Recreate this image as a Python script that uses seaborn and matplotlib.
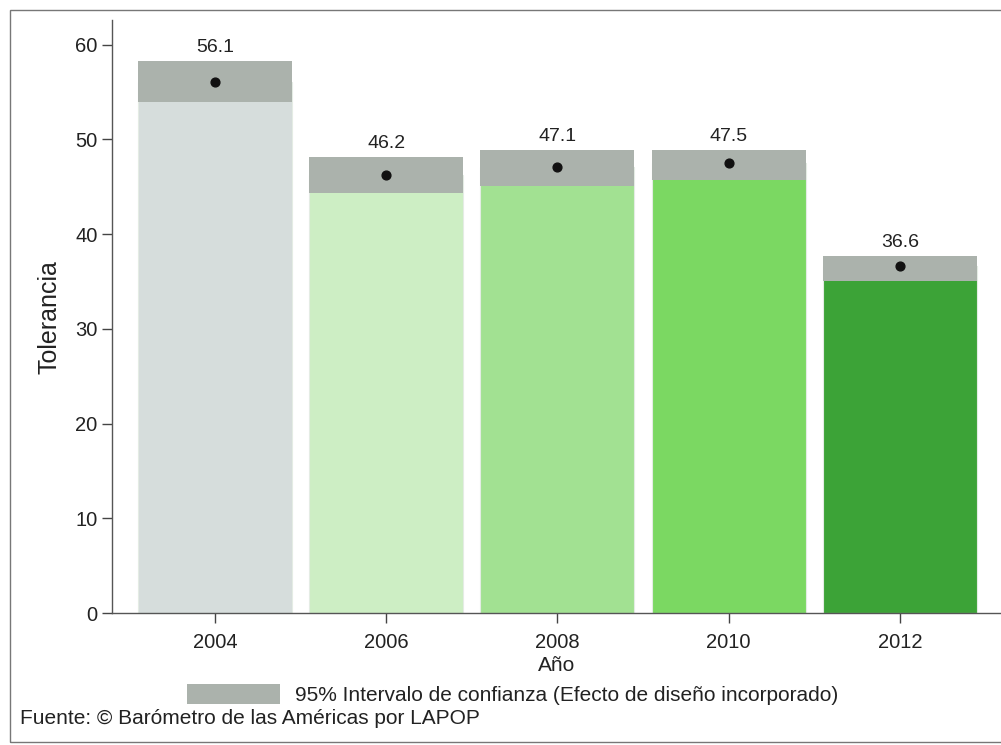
import matplotlib
matplotlib.use("Agg")
import matplotlib.pyplot as plt
from matplotlib.patches import Patch, Rectangle
import seaborn as sns
import pandas as pd

years = ["2004", "2006", "2008", "2010", "2012"]
tolerancia = [56.1, 46.2, 47.1, 47.5, 36.6]
ci_low = [54.0, 44.3, 45.1, 45.7, 35.1]
ci_high = [58.3, 48.2, 48.9, 48.9, 37.7]
bar_colors = ["#d6dddc", "#cdeec4", "#a2e192", "#7bd862", "#3ca337"]
ci_color = "#abb2ac"

sns.set_theme(style="ticks")
plt.rcParams['font.family'] = ['Liberation Sans', 'DejaVu Sans']

df = pd.DataFrame({"Año": years, "Tolerancia": tolerancia})

fig = plt.figure(figsize=(10.01, 7.45), dpi=100)
ax = fig.add_axes([0.112, 0.177, 0.888, 0.796])

sns.barplot(data=df, x="Año", y="Tolerancia", hue="Año", palette=bar_colors,
            saturation=1, width=0.9, legend=False, ax=ax, edgecolor="#e4ece4",
            linewidth=0.8, errorbar=None)

x = list(range(len(years)))
ax.bar(x, [h - l for h, l in zip(ci_high, ci_low)], bottom=ci_low, width=0.9,
       color=ci_color, edgecolor="none", zorder=3)
ax.scatter(x, tolerancia, s=40, color="#111111", zorder=4)
for xi, v, h in zip(x, tolerancia, ci_high):
    ax.text(xi, h + 0.5, f"{v:.1f}", ha="center", va="bottom", fontsize=14, color="#222222")

ax.set_xlim(-0.6, 4.59)
ax.set_ylim(0, 62.6)
ax.set_yticks([0, 10, 20, 30, 40, 50, 60])
ax.tick_params(axis="both", length=7, width=1, colors="#444444", labelsize=14.5,
               labelcolor="#222222")
ax.tick_params(axis="x", pad=7)
ax.set_ylabel("Tolerancia", fontsize=18, color="#222222", labelpad=10)
ax.set_xlabel("Año", fontsize=15, color="#222222", labelpad=3)
for s in ["top", "right"]:
    ax.spines[s].set_visible(False)
for s in ["left", "bottom"]:
    ax.spines[s].set_color("#555555")
    ax.spines[s].set_linewidth(1)

handles = [Patch(facecolor=ci_color, edgecolor="none",
                 label="95% Intervalo de confianza (Efecto de diseño incorporado)")]
fig.legend(handles=handles, loc="center left", bbox_to_anchor=(0.187, 0.068),
           frameon=False, fontsize=15, handlelength=4.46, handleheight=1.15,
           handletextpad=0.72, borderpad=0, borderaxespad=0, labelcolor="#222222")

fig.text(0.02, 0.036, "Fuente: © Barómetro de las Américas por LAPOP",
         fontsize=15, color="#222222", ha="left", va="center")

fig.patches.append(Rectangle((0.010, 0.004), 1.0, 0.983, transform=fig.transFigure,
                             fill=False, edgecolor="#777777", linewidth=1.0))

fig.savefig("out.png", dpi=100)
